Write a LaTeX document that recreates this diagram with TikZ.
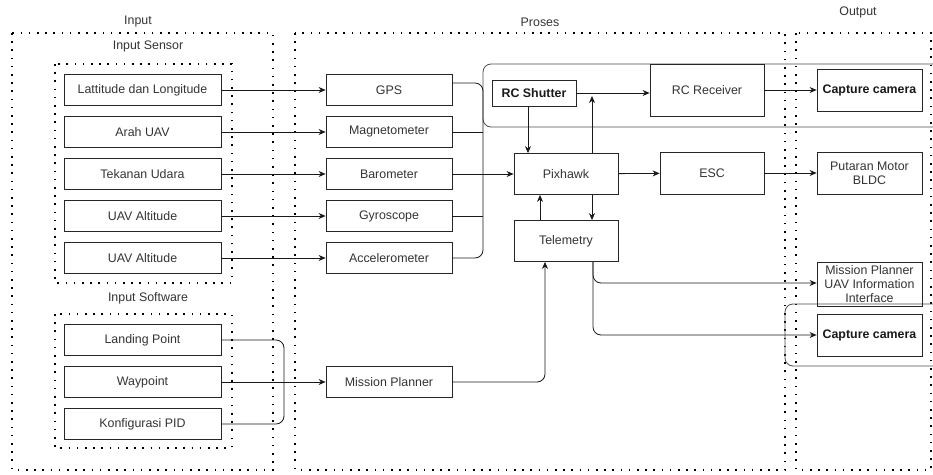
\documentclass[tikz,border=0pt]{standalone}
\usepackage{fontspec}
\setmainfont{Liberation Sans}
\usetikzlibrary{arrows.meta,calc}
\begin{document}
\begin{tikzpicture}[x=1pt,y=-1pt,
  every node/.style={font=\fontsize{12.4}{14}\selectfont, text=black!80},
  rect/.style={draw=black!85, line width=0.8pt, inner sep=0pt, align=center},
  inbox/.style={rect, minimum width=157pt, minimum height=31pt},
  procbox/.style={rect, minimum width=126pt, minimum height=31pt},
  outbox/.style={rect, minimum width=105pt, minimum height=42pt},
  boldtxt/.style={font=\fontsize{12.4}{14}\selectfont\bfseries, text=black!90},
  region/.style={draw=black, line width=1.6pt, dash pattern=on 1.6pt off 6.6pt},
  conn/.style={draw=black!90, line width=0.8pt},
  arr/.style={conn, -{Stealth[length=7pt,width=6pt]}},
  grp/.style={draw=black!70, line width=0.8pt, rounded corners=8pt}
]
\useasboundingbox (0,0) rectangle (933,474);

% dotted regions
\draw[region] (12,33) rectangle (273,470);
\draw[region] (55,64) rectangle (232,283);
\draw[region] (55,314) rectangle (232,448);
\draw[region] (295,33) rectangle (785,470);
\draw[region] (796,33) rectangle (931,470);

% region labels
\node (lInput) at (138,22) {Input};
\node (lSensor) at (148,46) {Input Sensor};
\node (lSoft) at (148,298) {Input Software};
\node (lProses) at (540,22) {Proses};
\node (lOutput) at (858,12) {Output};

% groups (rounded)
\draw[grp] (933,64) -- (483,64) -- (483,127) -- (933,127);
\draw[grp] (933,304) -- (785,304) -- (785,366) -- (933,366);

% input sensor boxes
\node[inbox] (lat) at (142.5,90) {Lattitude dan Longitude};
\node[inbox] (arah) at (142.5,132) {Arah UAV};
\node[inbox] (tek) at (142.5,174) {Tekanan Udara};
\node[inbox] (alt1) at (142.5,216) {UAV Altitude};
\node[inbox] (alt2) at (142.5,258) {UAV Altitude};

% input software boxes
\node[inbox] (land) at (142.5,340) {Landing Point};
\node[inbox] (way) at (142.5,382) {Waypoint};
\node[inbox] (pid) at (142.5,424) {Konfigurasi PID};

% process boxes
\node[procbox] (gps) at (389,90) {GPS};
\node[procbox] (mag) at (389,132) {Magnetometer};
\node[procbox] (baro) at (389,174) {Barometer};
\node[procbox] (gyro) at (389,216) {Gyroscope};
\node[procbox] (acc) at (389,258) {Accelerometer};
\node[procbox] (mp) at (389,382) {Mission Planner};

\node[rect, minimum width=104pt, minimum height=41pt] (pix) at (566,174) {Pixhawk};
\node[rect, minimum width=104pt, minimum height=41pt] (tel) at (566,241) {Telemetry};
\node[rect, minimum width=84pt, minimum height=26pt, boldtxt] (shut) at (534,93) {RC Shutter};
\node[rect, minimum width=114pt, minimum height=52pt] (rcr) at (707,90) {RC Receiver};
\node[rect, minimum width=104pt, minimum height=42pt] (esc) at (712,173) {ESC};

% output boxes
\node[outbox, boldtxt] (cap1) at (869.5,90) {Capture camera};
\node[outbox] (motor) at (869.5,173) {Putaran Motor\\BLDC};
\node[rect, minimum width=105pt, minimum height=44pt] (mpui) at (869.5,284) {Mission Planner\\UAV Information\\Interface};
\node[outbox, boldtxt] (cap2) at (869.5,335) {Capture camera};

% sensor -> process
\draw[arr] (lat) -- (gps);
\draw[arr] (arah) -- (mag);
\draw[arr] (tek) -- (baro);
\draw[arr] (alt1) -- (gyro);
\draw[arr] (alt2) -- (acc);

% process merge lines
\coordinate (mtop) at (483,83);
\coordinate (mbot) at (483,258);
\draw[conn, rounded corners=8pt] ([yshift=7pt]gps.east) -- (mtop) -- (mbot) -- (acc.east);
\draw[conn] (mag.east) -- (mag.east -| mtop);
\draw[conn] (gyro.east) -- (gyro.east -| mtop);
\draw[arr] (baro) -- (pix);

% RC shutter
\draw[arr] ([xshift=-6pt]shut.south) -- ([xshift=-6pt]shut.south |- pix.north);
\draw[arr] (shut.east) -- (shut.east -| rcr.west);
\coordinate (uptip) at (592,96);
\draw[arr] ([xshift=26pt]pix.north) -- (uptip);
\draw[arr] (rcr) -- (cap1);

% pixhawk, ESC
\draw[arr] (pix) -- (esc);
\draw[arr] (esc) -- (motor);
\draw[arr] ([xshift=26pt]pix.south) -- ([xshift=26pt]tel.north);
\draw[arr] ([xshift=-26pt]tel.north) -- ([xshift=-26pt]pix.south);

% mission planner -> telemetry
\coordinate (mpc) at (545,382);
\draw[arr, rounded corners=8pt] (mp.east) -- (mpc) -- ([xshift=-21pt]tel.south);

% telemetry -> outputs
\coordinate (t1) at (593,283);
\coordinate (t2) at (593,335);
\draw[arr, rounded corners=8pt] ([xshift=27pt]tel.south) -- (t1) -- (t1 -| mpui.west);
\draw[arr, rounded corners=8pt] ([xshift=27pt]tel.south) -- (t2) -- (cap2.west);

% software -> mission planner
\coordinate (s1) at (284,340);
\coordinate (s2) at (284,424);
\draw[conn, rounded corners=8pt] (land.east) -- (s1) -- (s2) -- (pid.east);
\draw[arr] (way) -- (mp);

\end{tikzpicture}
\end{document}
